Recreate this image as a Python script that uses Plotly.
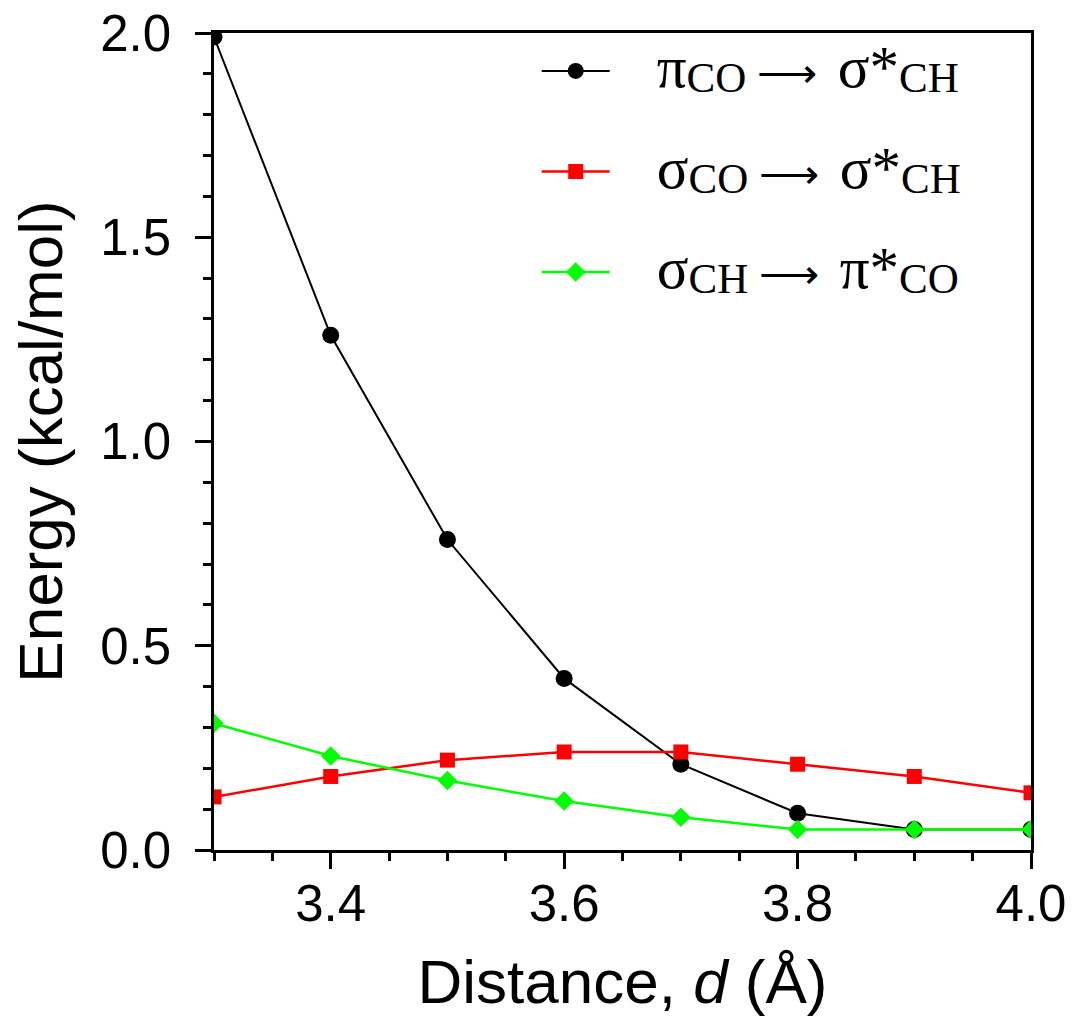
import plotly.graph_objects as go

distance = [3.3, 3.4, 3.5, 3.6, 3.7, 3.8, 3.9, 4.0]
pi_co_sigma_ch = [1.99, 1.26, 0.76, 0.42, 0.21, 0.09, 0.05, 0.05]
sigma_co_sigma_ch = [0.13, 0.18, 0.22, 0.24, 0.24, 0.21, 0.18, 0.14]
sigma_ch_pi_co = [0.31, 0.23, 0.17, 0.12, 0.08, 0.05, 0.05, 0.05]

G = '<span style="font-size:59px">{}</span>'
L = '<span style="font-size:43px;baseline-shift:-5px">{}</span>'
PAD = '\u2003'
ARROW = ' ⟶\u2002'
names = [
    PAD + G.format('π') + L.format('CO') + ARROW + G.format('σ*') + L.format('CH'),
    PAD + G.format('σ') + L.format('CO') + ARROW + G.format('σ*') + L.format('CH'),
    PAD + G.format('σ') + L.format('CH') + ARROW + G.format('π*') + L.format('CO'),
]

fig = go.Figure()
fig.add_trace(go.Scatter(x=distance, y=pi_co_sigma_ch, mode='lines+markers', name=names[0],
                         legendgroup='a', line=dict(color='black', width=2),
                         marker=dict(symbol='circle', size=17, color='black')))
fig.add_trace(go.Scatter(x=distance, y=sigma_co_sigma_ch, mode='lines+markers', name=names[1],
                         legendgroup='b', line=dict(color='#ff0000', width=2.5),
                         marker=dict(symbol='square', size=15, color='#ff0000')))
fig.add_trace(go.Scatter(x=distance, y=sigma_ch_pi_co, mode='lines+markers', name=names[2],
                         legendgroup='c', line=dict(color='#00ff00', width=2.5),
                         marker=dict(symbol='diamond', size=15, color='#00ff00')))

axis_common = dict(showline=True, linecolor='black', linewidth=2.5, mirror=True,
                   ticks='outside', ticklen=16, tickwidth=2.5, tickcolor='black',
                   showgrid=False, zeroline=False, automargin=False,
                   tickfont=dict(family='Liberation Sans, Arial', size=51, color='black'))

fig.update_xaxes(range=[3.3, 4.0], tick0=3.4, dtick=0.2, tickformat='.1f',
                 minor=dict(dtick=0.05, tick0=3.3, ticks='outside', ticklen=8, tickwidth=2.5, tickcolor='black'),
                 title=dict(text='Distance, <i>d</i> (Å)', font=dict(family='Liberation Sans, Arial', size=62, color='black'), standoff=29),
                 ticklabelstandoff=-9,
                 **axis_common)
fig.update_yaxes(range=[0, 2.0], tick0=0, dtick=0.5, tickformat='.1f',
                 minor=dict(dtick=0.1, tick0=0, ticks='outside', ticklen=8, tickwidth=2.5, tickcolor='black'),
                 title=dict(text='Energy (kcal/mol)', font=dict(family='Liberation Sans, Arial', size=62, color='black'), standoff=18),
                 ticklabelstandoff=14,
                 **axis_common)

fig.update_layout(
    width=1075, height=1018,
    margin=dict(l=214, r=44, t=33, b=168),
    paper_bgcolor='white', plot_bgcolor='white',
    showlegend=True,
    legend=dict(x=0.395, y=0.995, xanchor='left', yanchor='top',
                bgcolor='rgba(0,0,0,0)', borderwidth=0,
                font=dict(family='Liberation Serif, Times New Roman', size=42, color='black'),
                itemwidth=68, tracegroupgap=43, traceorder='grouped'),
)

fig.write_html('out.html', config={'displayModeBar': False},
               post_script="document.body.style.margin='0';document.body.style.overflow='hidden';")
